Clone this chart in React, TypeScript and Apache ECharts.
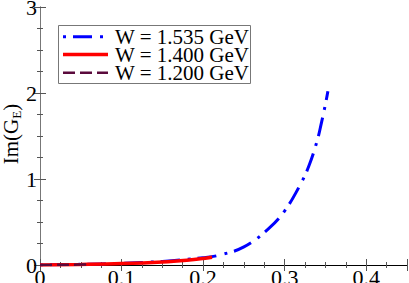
import React, { useEffect, useRef } from "react";
import * as echarts from "echarts";

const seriesNames = ["W = 1.535 GeV", "W = 1.400 GeV", "W = 1.200 GeV"];
const seriesColors = ["#0000ff", "#ff0000", "#5a0a3c"];

const q2_1535 = [0, 0.05, 0.1, 0.15, 0.2, 0.22, 0.25, 0.28, 0.3, 0.32, 0.33, 0.34, 0.345, 0.35, 0.353];
const im_1535 = [0, 0.008, 0.02, 0.042, 0.085, 0.115, 0.21, 0.42, 0.63, 0.95, 1.16, 1.45, 1.65, 1.87, 2.02];

const q2_1400 = [0, 0.05, 0.1, 0.15, 0.18, 0.2, 0.211];
const im_1400 = [0, 0.006, 0.016, 0.035, 0.055, 0.075, 0.09];

const q2_1200 = [0, 0.02, 0.04, 0.06];
const im_1200 = [0, 0.002, 0.004, 0.007];

const xTicks = [0, 0.1, 0.2, 0.3, 0.4];

const serif = "Liberation Serif";

export default function App() {
  const ref = useRef<HTMLDivElement>(null);
  useEffect(() => {
    if (!ref.current) return;
    const chart = echarts.init(ref.current, undefined, { renderer: "svg" });
    const zip = (xs: number[], ys: number[]) => xs.map((x, i) => [x, ys[i]]);
    const dashes: any[] = [[3, 7, 19, 8], "solid", [12, 5]];
    const widths = [3, 3.5, 2.5];
    const xCommon = {
      type: "value",
      min: 0,
      max: 0.45,
      interval: 0.1,
      axisLine: { show: true, lineStyle: { color: "#000", width: 1 } },
      axisTick: { show: true, inside: true, length: 6, lineStyle: { color: "#555" } },
      minorTick: { show: true, splitNumber: 4, length: 3, lineStyle: { color: "#555" } },
      splitLine: { show: false },
      minorSplitLine: { show: false },
    };
    const yCommon = {
      type: "value",
      min: 0,
      max: 3,
      interval: 1,
      axisLine: { show: true, lineStyle: { color: "#777", width: 1 } },
      axisTick: { show: true, inside: true, length: 6, lineStyle: { color: "#555" } },
      minorTick: { show: true, splitNumber: 4, length: 3, lineStyle: { color: "#555" } },
      splitLine: { show: false },
      minorSplitLine: { show: false },
    };
    const legendRows = [36.7, 54.5, 72.7];
    const legendGraphics: any[] = [
      {
        type: "rect",
        shape: { x: 58.5, y: 25.5, width: 192, height: 58 },
        style: { fill: "#fff", stroke: "#777", lineWidth: 1 },
        z: 100,
      },
    ];
    seriesNames.forEach((n, i) => {
      legendGraphics.push({
        type: "line",
        shape: { x1: 63, y1: legendRows[i], x2: 108, y2: legendRows[i] },
        style: {
          stroke: seriesColors[i],
          lineWidth: widths[i],
          lineDash: dashes[i] === "solid" ? null : dashes[i],
        },
        z: 101,
      });
      legendGraphics.push({
        type: "text",
        x: 115,
        y: legendRows[i] + 0.5,
        style: {
          text: n,
          fontFamily: serif,
          fontSize: 21,
          lineHeight: 17,
          fill: "#000",
          verticalAlign: "middle",
          align: "left",
        },
        z: 101,
      });
    });
    chart.setOption({
      animation: false,
      backgroundColor: "#fff",
      grid: { left: 40, top: 7, right: 2, bottom: 18, containLabel: false, outerBoundsMode: "none" },
      graphic: [
        ...legendGraphics,
        {
          type: "text",
          x: 11,
          y: 134,
          rotation: Math.PI / 2,
          style: {
            text: "Im(G{s|E})",
            fontFamily: serif,
            fontSize: 21,
            fill: "#000",
            align: "center",
            verticalAlign: "middle",
            rich: {
              s: { fontFamily: serif, fontSize: 13, fill: "#000", padding: [10, 0, 0, 0] },
            },
          },
        },
      ],
      xAxis: [
        {
          ...xCommon,
          position: "bottom",
          axisLabel: {
            show: true,
            fontFamily: serif,
            fontSize: 22,
            color: "#000",
            margin: 1,
            formatter: (v: number) => (xTicks.some((t) => Math.abs(t - v) < 1e-9) ? String(Number(v.toFixed(2))) : ""),
          },
        },
        { ...xCommon, position: "top", axisLabel: { show: false } },
      ],
      yAxis: [
        {
          ...yCommon,
          position: "left",
          axisLabel: { show: true, fontFamily: serif, fontSize: 22, color: "#000", margin: 3 },
        },
        { ...yCommon, position: "right", axisLabel: { show: false } },
      ],
      series: seriesNames.map((n, i) => ({
        name: n,
        type: "line",
        data: [zip(q2_1535, im_1535), zip(q2_1400, im_1400), zip(q2_1200, im_1200)][i],
        smooth: 0.4,
        showSymbol: false,
        symbol: "none",
        color: seriesColors[i],
        lineStyle: { color: seriesColors[i], width: widths[i], type: dashes[i] },
        z: 2 + i,
      })),
    });
    return () => chart.dispose();
  }, []);
  return <div ref={ref} style={{ width: 409, height: 283, position: "absolute", left: 0, top: 0 }} />;
}
